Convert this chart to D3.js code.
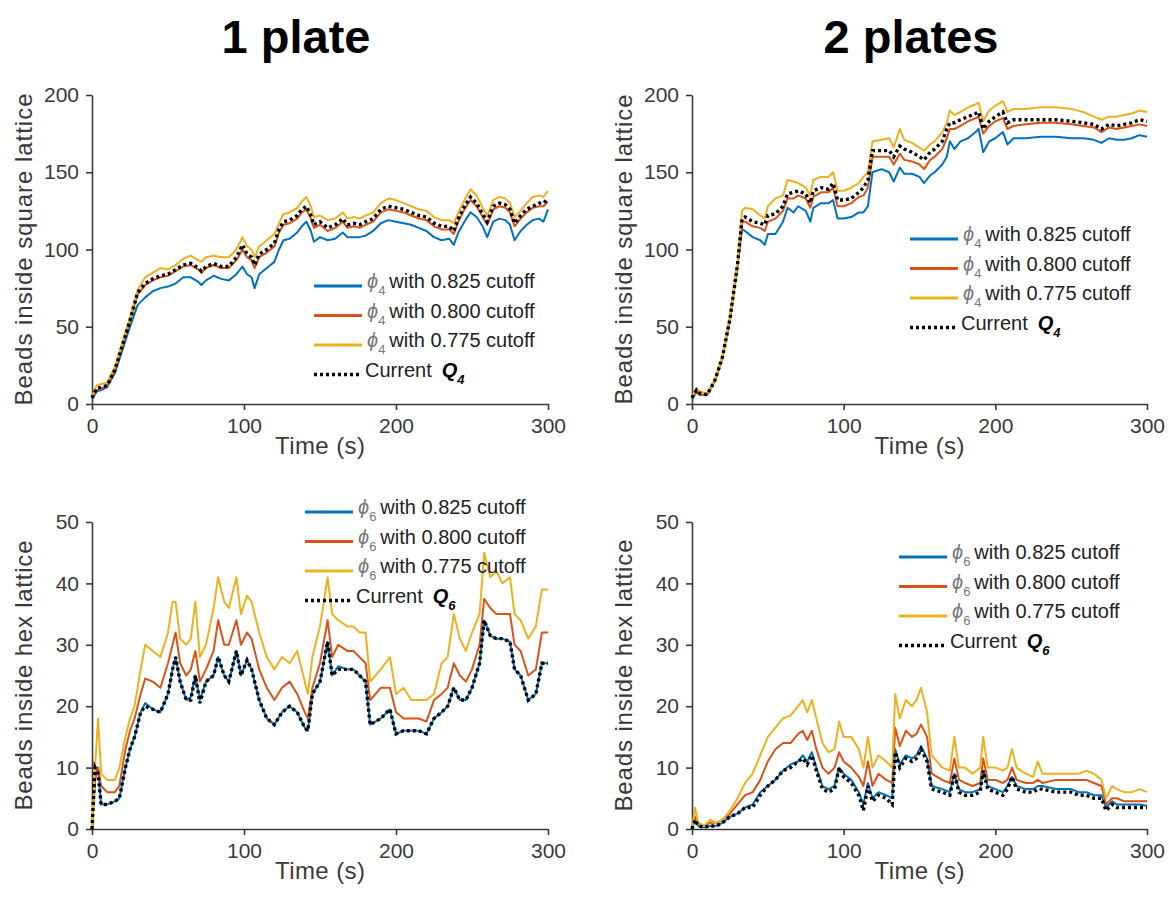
<!DOCTYPE html>
<html>
<head>
<meta charset="utf-8">
<script src="https://cdn.jsdelivr.net/npm/d3@7"></script>
<style>
  html, body { margin: 0; padding: 0; background: #fff; }
  svg { display: block; font-family: "Liberation Sans", Arial, Helvetica, sans-serif; }
</style>
</head>
<body>
<svg id="chart" width="1169" height="899"></svg>
<script>
// ---------------- DATA ----------------
const xTicks = [0, 100, 200, 300];
const ySqTicks = [0, 50, 100, 150, 200];
const yHexTicks = [0, 10, 20, 30, 40, 50];
const titles = ["1 plate", "2 plates"];
const cutoffs = ["0.825", "0.800", "0.775"];

// 1 plate, square lattice (phi4 / Q4)
const p1SqTime = [0,3,6,10,15,20,25,30,35,40,45,50,55,60,65,70,72,75,80,85,90,95,99,102,105,107,110,115,120,123,126,130,135,138,141,144,146,150,155,160,165,168,172,176,180,185,190,195,200,205,210,215,220,225,230,235,238,241,245,249,253,257,260,264,268,272,275,278,282,286,290,294,297,300];
const p1Sq825 = [3,8,9,11,20,35,50,64,69,73,75,76,78,82,82,79,77,80,83,81,80,84,89,84,82,75,84,88,92,100,106,107,111,115,118,112,105,108,106,107,111,108,108,108,109,112,117,119,118,117,116,114,112,108,106,107,103,111,118,124,121,115,108,118,120,119,116,106,112,116,119,120,118,126];
const p1Sq800 = [4,9,10,12,22,38,54,71,77,80,82,83,86,89,90,87,85,88,90,88,88,93,100,95,93,88,95,98,102,111,116,117,120,124,126,120,114,116,112,114,118,114,115,114,116,118,124,126,125,124,122,120,119,115,113,113,110,118,126,132,128,121,116,126,128,127,124,115,120,124,127,128,128,131];
const p1Sq775 = [5,12,13,14,24,40,56,74,82,85,88,87,90,94,96,93,92,95,96,95,95,100,108,102,100,95,102,106,110,117,123,124,127,131,134,128,121,122,119,120,124,120,121,120,122,124,130,133,132,130,128,126,125,121,119,119,117,124,132,139,135,127,122,132,134,133,130,121,125,130,134,135,134,138];
const p1SqQ4  = [4,10,11,12,22,38,54,72,78,81,83,84,87,90,91,88,86,89,91,89,89,95,103,97,95,90,97,100,104,113,118,119,122,126,128,122,116,118,114,116,120,116,117,116,118,120,126,128,127,126,124,122,121,117,115,115,112,120,128,134,130,123,118,128,130,129,126,117,122,126,128,130,130,133];

// 2 plates, square lattice
const p2SqTime = [0,3,5,10,15,20,25,30,33,35,40,45,48,50,55,60,63,67,70,75,78,80,85,90,93,96,100,105,110,113,116,119,125,130,133,137,140,145,150,153,157,160,165,168,170,173,177,182,187,189,192,196,200,205,208,212,220,230,240,250,258,265,270,275,280,285,290,295,300];
const p2Sq825 = [3,8,6,6,15,30,55,90,113,112,108,106,103,110,110,118,127,124,128,125,118,127,130,130,132,120,120,121,124,124,128,150,152,150,144,153,149,149,147,143,148,150,155,160,170,165,170,172,176,178,163,170,172,176,168,172,172,173,173,172,172,171,169,172,171,171,172,174,173];
const p2Sq800 = [4,8,6,6,15,30,55,90,118,118,115,114,112,118,120,125,133,133,135,133,127,134,137,137,140,128,128,130,134,135,140,160,160,160,155,162,158,157,155,152,158,160,165,172,178,178,180,183,185,186,175,180,183,185,178,180,181,182,182,181,180,179,176,179,178,179,180,181,180];
const p2Sq775 = [5,10,8,7,16,31,56,92,125,127,126,122,120,128,133,135,145,144,143,140,135,145,147,147,150,138,138,140,143,147,150,170,171,172,166,178,171,169,166,164,168,170,176,182,190,187,189,192,194,195,183,190,193,196,189,191,191,192,192,191,189,186,184,186,186,187,188,190,189];
const p2SqQ4  = [4,9,7,6,15,30,55,90,120,121,118,117,116,122,123,128,136,137,138,136,130,138,140,139,143,132,132,133,137,140,145,164,164,164,160,167,165,163,160,158,163,165,170,178,182,182,184,186,188,189,178,183,186,189,182,184,184,184,184,183,182,181,178,181,180,181,182,184,183];

// 1 plate, hex lattice (phi6 / Q6)
const p1HexTime = [0,2,4,6,10,15,18,22,25,28,32,35,40,45,50,53,55,58,62,65,68,71,75,80,83,87,90,95,98,102,105,110,115,120,125,130,135,140,142,145,150,155,158,162,168,172,176,180,183,190,196,200,205,210,215,220,225,230,234,238,242,246,250,255,258,262,266,270,275,278,282,287,292,296,300];
const p1Hex825 = [0,9,10,4,4,4.5,5,10,13,15,19,20.5,19.5,19,22,26,28,24,21,21.5,25,21,24,25,28,25,24,29,25,27.5,26,21,18,17,19,20,19,16.5,16,22,24,30.5,25,26.5,26,26,25,24,17,18,19.5,15.5,16,16,16,15.5,18,19,20,23,21,21,23,27,34,31.5,31,31,30.5,26,25,21,22,27,27];
const p1Hex800 = [0,8,10,7,6,6,7,13,16,18,22,24.5,24,23,27,30,32,27,25,26,29,24,26,29,34,30,30,34,30,32,31,26,23,21,23,24,22,19,18,23,27,34,28,30,29,29,28,27,21,23,23,19,18,18,18,17.5,21,22,23,27,25,24,26,30,37.5,36,35,35,35,30,29,25,26,32,32];
const p1Hex775 = [0,10,18,9,8,8,10,15,18,20,26,30,29,28,32,37,37,31,30,31,37,28,30,36,41,37,36,41,35,38,37,32,28,26,28,27,29,24,22,28,33,41,35,34,33,33,32,32,24,26,28,22,23,21,21,21,22,27,28,35,31,29,32,35,45,41,42,40,41,35,34,31,33,39,39];
const p1HexQ6  = [0,10,9,4,4,4.5,5,10,13,15,19,20,19.5,19,22,26,28,24,21,21,25,20.5,24,25,28,25,24,29,25,27.5,26,21,18,17,19,20,19,16.5,16,22,24,30.5,25,26,26,26,25,24,17,18,19.5,15.5,16,16,16,15.5,18,19,20,23,21,21,23,27,34,31.5,31,31,30.5,26,25,21,22,27,27];

// 2 plates, hex lattice
const p2HexTime = [0,2,4,8,12,16,20,25,30,35,40,45,50,55,60,65,70,73,76,79,82,86,90,94,97,100,105,110,113,116,119,123,128,132,134,137,141,145,148,151,155,158,165,170,173,176,180,185,190,192,195,200,205,208,211,214,220,225,228,231,240,250,255,260,265,270,273,277,280,285,290,295,300];
const p2Hex825 = [0,1.5,0.5,0.3,0.5,0.5,1,2,2.5,3.5,4,6,7,8,9.5,10.5,11,12,11,12.5,10,7,6.5,7,10,9,8,6,4,7.5,5,6,5.5,5,13,10.5,12,11.5,12,13.5,11.5,7,6.5,6,9,6.5,6,6,6.5,9.5,7,6.5,6,7,8.5,7,6.5,6.5,7,7,6.5,6.5,6,6,5.5,5.5,3.5,4.5,4,4,4,4,3.8];
const p2Hex800 = [0,2,1,0.5,1,1,1.5,2.5,4,5.5,6,8,11,13,14,14,15.5,16,14.5,16,13,10,9,10,12.5,11,10,8.5,7,11,7,9,8,7.5,16.5,13.5,16,15,15.5,17,15,9,8,7.5,11.5,8,7.5,7,7.5,11.5,8,8,7.5,8,10,8,7.5,7.5,8,7.5,8,8,8,8,7.5,7,4,5,5,4.5,4.5,4.5,4.5];
const p2Hex775 = [0,3.5,1,0.5,1.5,1,1.5,3,5,7.5,9,12,15,16.5,18,18.5,20,21,19,21,18,14,12.5,13,17.5,15,15,13,10,15,10,12,11,10,22,18,21,20,21,23,19,12,10,9.5,15,10,10,9,10,15,10,10,9.5,10,13,10,9,8.5,11,9,9,9,9,9.5,9,8,5,7,6.5,6,6,6.5,6];
const p2HexQ6  = [0,1.5,0.5,0.3,0.5,0.5,1,2,2.5,3.5,3.5,5.5,7,8,9.5,10,11,11.5,10.5,12,9.5,6.5,6,6.5,10,8.5,7.5,5.5,3,7,4.5,5.5,5,4,12.5,10,11.5,11,11.5,13,11,6.5,6,5.5,9,6,5.5,5.5,6,9.5,6.5,6,5.5,6.5,8.5,6.5,6,6,6.5,6.5,6,6,5.5,5.5,5,5,3,4,3.5,3.5,3.5,3.5,3.5];

// ---------------- STYLE / LAYOUT ----------------
const colors = ["#0072BD", "#D95319", "#EDB120"];
const svg = d3.select("#chart");
const FONT = '"Liberation Sans", Arial, Helvetica, sans-serif';
const INK = "#3a3a3a";

const panels = [
  { time: p1SqTime, series: [p1Sq825, p1Sq800, p1Sq775], q: p1SqQ4, yMax: 200, yTicks: ySqTicks,
    ylab: "Beads inside square lattice", ylabLen: 312, sub: "4",
    box: {l: 92, r: 548, t: 95, b: 404}, ylabX: 24, leg: {x: 314, y: 286} },
  { time: p2SqTime, series: [p2Sq825, p2Sq800, p2Sq775], q: p2SqQ4, yMax: 200, yTicks: ySqTicks,
    ylab: "Beads inside square lattice", ylabLen: 310, sub: "4",
    box: {l: 692, r: 1147, t: 95, b: 404}, ylabX: 624, leg: {x: 910, y: 239} },
  { time: p1HexTime, series: [p1Hex825, p1Hex800, p1Hex775], q: p1HexQ6, yMax: 50, yTicks: yHexTicks,
    ylab: "Beads inside hex lattice", ylabLen: 270, sub: "6",
    box: {l: 92, r: 548, t: 522, b: 829}, ylabX: 24, leg: {x: 305, y: 512} },
  { time: p2HexTime, series: [p2Hex825, p2Hex800, p2Hex775], q: p2HexQ6, yMax: 50, yTicks: yHexTicks,
    ylab: "Beads inside hex lattice", ylabLen: 272, sub: "6",
    box: {l: 692, r: 1147, t: 522, b: 829}, ylabX: 624, leg: {x: 899, y: 557} }
];

// titles
[[titles[0], 296], [titles[1], 911]].forEach(([txt, cx]) => {
  svg.append("text").attr("x", cx).attr("y", 53).attr("text-anchor", "middle")
    .attr("font-size", 47).attr("font-weight", "bold").attr("fill", "#000").text(txt);
});

panels.forEach(p => {
  const b = p.box;
  const x = d3.scaleLinear().domain([0, 300]).range([b.l, b.r]);
  const y = d3.scaleLinear().domain([0, p.yMax]).range([b.b, b.t]);
  const g = svg.append("g");

  // axes
  const xAxis = d3.axisBottom(x).tickValues(xTicks).tickSize(6).tickSizeOuter(0).tickPadding(5);
  const yAxis = d3.axisLeft(y).tickValues(p.yTicks).tickSize(6).tickSizeOuter(0).tickPadding(7);
  const gx = g.append("g").attr("transform", `translate(0,${b.b})`).call(xAxis);
  const gy = g.append("g").attr("transform", `translate(${b.l},0)`).call(yAxis);
  [gx, gy].forEach(a => {
    a.select(".domain").attr("stroke", INK).attr("stroke-width", 1.6);
    a.selectAll(".tick line").attr("stroke", INK).attr("stroke-width", 1.6);
    a.selectAll(".tick text").attr("font-family", FONT).attr("font-size", 21).attr("fill", INK);
  });
  gx.selectAll(".tick text").attr("dy", "0.85em");

  // axis labels
  g.append("text").attr("x", (b.l + b.r) / 2).attr("y", b.b + 50).attr("text-anchor", "middle")
    .attr("font-size", 24).attr("fill", INK)
    .attr("textLength", 90).attr("lengthAdjust", "spacing").text("Time (s)");
  g.append("text").attr("transform", `translate(${p.ylabX},${(b.t + b.b) / 2}) rotate(-90)`)
    .attr("text-anchor", "middle").attr("dy", "0.35em")
    .attr("font-size", 24).attr("fill", INK)
    .attr("textLength", p.ylabLen).attr("lengthAdjust", "spacing").text(p.ylab);

  // lines
  const line = d3.line().x(d => x(d[0])).y(d => y(d[1]));
  p.series.forEach((s, i) => {
    const pts = p.time.map((t, k) => [t, s[k]]).filter(d => d[1] != null);
    g.append("path").datum(pts).attr("d", line).attr("fill", "none")
      .attr("stroke", colors[i]).attr("stroke-width", 2).attr("stroke-linejoin", "round");
  });
  const qpts = p.time.map((t, k) => [t, p.q[k]]).filter(d => d[1] != null);
  g.append("path").datum(qpts).attr("d", line).attr("fill", "none")
    .attr("stroke", "#000").attr("stroke-width", 3.4).attr("stroke-dasharray", "3,3");

  // legend
  const L = p.leg, rowH = 29.5, lineW = 48;
  cutoffs.forEach((c, i) => {
    const yy = L.y + i * rowH;
    g.append("line").attr("x1", L.x).attr("x2", L.x + lineW).attr("y1", yy).attr("y2", yy)
      .attr("stroke", colors[i]).attr("stroke-width", 3);
    const t = g.append("text").attr("x", L.x + lineW + 5).attr("y", yy + 2)
      .attr("font-size", 20).attr("fill", "#222");
    t.append("tspan").attr("font-style", "italic").attr("fill", "#777").text("\u03D5");
    t.append("tspan").attr("font-size", 13).attr("dy", 7).attr("fill", "#777").text(p.sub);
    t.append("tspan").attr("dy", -7).attr("dx", 4).text("with " + c + " cutoff");
  });
  const yq = L.y + 3 * rowH;
  g.append("line").attr("x1", L.x).attr("x2", L.x + lineW).attr("y1", yq).attr("y2", yq)
    .attr("stroke", "#000").attr("stroke-width", 3.4).attr("stroke-dasharray", "3,3");
  const tq = g.append("text").attr("x", L.x + lineW + 3).attr("y", yq + 2)
    .attr("font-size", 20).attr("fill", "#222");
  tq.append("tspan").text("Current\u2002");
  tq.append("tspan").attr("font-weight", "bold").attr("font-style", "italic").attr("fill", "#000").text("Q");
  tq.append("tspan").attr("font-size", 13).attr("dy", 7).attr("font-weight", "bold")
    .attr("font-style", "italic").attr("fill", "#000").text(p.sub);
});
</script>
</body>
</html>
